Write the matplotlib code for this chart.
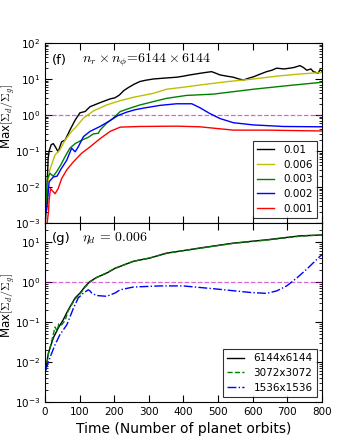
import numpy as np
import matplotlib
matplotlib.use('Agg')
import matplotlib.pyplot as plt

plt.rcParams['mathtext.fontset'] = 'cm'
plt.rcParams['font.family'] = ['DejaVu Sans']

# ---- panel (f): different eta_d at 6144x6144 ----
t_001 = [0, 3, 6, 9, 12, 18, 24, 30, 38, 48, 58, 72, 87, 101, 116, 130, 159, 188, 202, 215,
         228, 241, 258, 274, 290, 313, 340, 380, 400, 419, 440, 460, 481, 493, 505, 525, 544,
         560, 573, 588, 602, 620, 640, 655, 669, 690, 707, 720, 736, 746, 756, 768, 775, 789, 794, 800]
v_001 = [0.0008, 0.002, 0.01, 0.06, 0.1, 0.15, 0.16, 0.13, 0.095, 0.18, 0.2, 0.38, 0.72, 1.15, 1.25, 1.7,
         2.2, 2.8, 3.0, 3.6, 4.8, 5.8, 7.2, 8.5, 9.2, 10, 10.5, 11.2, 12, 13, 14, 15, 16, 14.5, 13,
         12, 11.2, 10, 9.4, 10.5, 11.5, 13.5, 16, 17.5, 20, 19, 20, 21, 23.5, 21, 17.5, 19, 16, 14.5, 18, 16.5]

t_0006 = [0, 5, 14, 29, 43, 58, 77, 91, 111, 140, 178, 217, 255, 313, 351, 399, 447, 524, 602, 669, 736, 794, 800]
v_0006 = [0.002, 0.008, 0.03, 0.078, 0.107, 0.2, 0.35, 0.48, 0.82, 1.3, 1.9, 2.5, 3.1, 4.0, 5.2, 5.9,
          6.8, 8.4, 10, 12, 13.8, 15, 15]

t_0003 = [0, 3, 7, 14, 24, 34, 45, 58, 72, 87, 106, 125, 140, 154, 159, 178, 197, 217, 241, 274,
          351, 409, 486, 602, 698, 794, 800]
v_0003 = [0.002, 0.004, 0.017, 0.024, 0.02, 0.027, 0.04, 0.07, 0.12, 0.16, 0.2, 0.24, 0.3, 0.31, 0.38,
          0.59, 0.82, 1.24, 1.5, 1.9, 2.9, 3.5, 3.8, 5.2, 6.5, 8.0, 8.1]

t_0002 = [0, 5, 12, 24, 35, 45, 63, 77, 87, 96, 111, 130, 159, 188, 211, 236, 260, 284, 332, 380,
          424, 447, 476, 505, 544, 602, 688, 794, 800]
v_0002 = [0.002, 0.0023, 0.014, 0.019, 0.02, 0.03, 0.056, 0.12, 0.095, 0.13, 0.25, 0.35, 0.48, 0.7,
          0.97, 1.2, 1.4, 1.55, 1.85, 2.05, 2.05, 1.6, 1.1, 0.8, 0.61, 0.53, 0.48, 0.47, 0.47]

t_0001 = [0, 5, 10, 12, 16, 29, 38, 48, 63, 82, 106, 130, 159, 188, 217, 274, 380, 447, 544, 640, 794, 800]
v_0001 = [0.0005, 0.0008, 0.002, 0.0044, 0.009, 0.0065, 0.009, 0.017, 0.03, 0.05, 0.087, 0.13, 0.22,
          0.35, 0.46, 0.48, 0.49, 0.47, 0.38, 0.38, 0.36, 0.36]

# ---- panel (g): resolution study at eta_d = 0.006 ----
t_6144 = [2, 10, 24, 38, 53, 67, 87, 101, 116, 130, 149, 178, 202, 255, 303, 351, 399, 447, 544, 640, 736, 794, 800]
v_6144 = [0.0064, 0.017, 0.04, 0.07, 0.115, 0.2, 0.4, 0.53, 0.78, 1.03, 1.3, 1.67, 2.2, 3.3, 4.0, 5.3,
          6.1, 7.1, 9.4, 11.4, 14.3, 15, 15]

t_3072 = [2, 10, 20, 29, 35, 40, 48, 58, 67, 87, 101, 116, 130, 149, 178, 202, 255, 303, 351, 399, 447, 544, 640, 736, 794, 800]
v_3072 = [0.006, 0.016, 0.035, 0.075, 0.06, 0.09, 0.085, 0.11, 0.19, 0.38, 0.5, 0.75, 1.0, 1.3, 1.7,
          2.2, 3.3, 4.0, 5.2, 6.1, 7.0, 9.3, 11.2, 14.0, 15, 15.2]

t_1536 = [2, 14, 29, 43, 63, 82, 96, 111, 125, 130, 135, 149, 178, 202, 217, 255, 332, 399, 495, 592,
          640, 669, 698, 727, 756, 794, 800]
v_1536 = [0.0064, 0.0126, 0.027, 0.048, 0.085, 0.22, 0.4, 0.53, 0.64, 0.6, 0.53, 0.46, 0.44, 0.53, 0.64,
          0.75, 0.8, 0.8, 0.67, 0.55, 0.52, 0.6, 0.8, 1.26, 2.1, 4.4, 4.8]

eta_labels = ['0.01', '0.006', '0.003', '0.002', '0.001']
res_labels = ['6144x6144', '3072x3072', '1536x1536']

fig = plt.figure(figsize=(3.57, 4.46), dpi=100)
ax1 = fig.add_axes([0.126, 0.5, 0.776, 0.4036])
ax2 = fig.add_axes([0.126, 0.0987, 0.776, 0.4013])


def style_axis(ax):
    ax.set_yscale('log')
    ax.set_xlim(0, 800)
    ax.set_xticks(np.arange(0, 801, 100))
    ax.tick_params(which='both', direction='in', top=True, right=True, labelsize=7.5)
    ax.tick_params(which='major', length=5, width=0.8)
    ax.tick_params(which='minor', length=2.5, width=0.6)
    ax.axhline(1.0, color='m', ls='--', lw=0.9, alpha=0.6)
    ax.set_ylabel(r'Max$[\Sigma_d/\Sigma_g]$', fontsize=8.5)


# panel (f)
style_axis(ax1)
ax1.plot(t_001, v_001, color='k', lw=1.0, label=eta_labels[0])
ax1.plot(t_0006, v_0006, color='y', lw=1.0, label=eta_labels[1])
ax1.plot(t_0003, v_0003, color='g', lw=1.0, label=eta_labels[2])
ax1.plot(t_0002, v_0002, color='b', lw=1.0, label=eta_labels[3])
ax1.plot(t_0001, v_0001, color='r', lw=1.0, label=eta_labels[4])
ax1.set_ylim(1e-3, 1e2)
ax1.tick_params(labelbottom=False)
ax1.yaxis.set_label_coords(-0.101, 0.59)
ax1.text(0.025, 0.905, r'(f)', transform=ax1.transAxes, fontsize=9.5, va='center')
ax1.text(0.135, 0.905, r'$n_r \times n_\phi\!=\!6144\times6144$', transform=ax1.transAxes,
         fontsize=10, va='center')
leg1 = ax1.legend(loc='lower right', fontsize=7.5, frameon=True, fancybox=False,
                  handlelength=1.6, handletextpad=0.9, labelspacing=0.45, borderaxespad=0.5)
leg1.get_frame().set_edgecolor('k')
leg1.get_frame().set_linewidth(0.8)

# panel (g)
style_axis(ax2)
ax2.plot(t_6144, v_6144, color='k', ls='-', lw=1.0, label=res_labels[0])
ax2.plot(t_3072, v_3072, color='g', ls='--', lw=1.0, label=res_labels[1])
ax2.plot(t_1536, v_1536, color='b', ls='-.', lw=1.0, label=res_labels[2])
ax2.set_ylim(1e-3, 30)
ax2.set_xlabel('Time (Number of planet orbits)', fontsize=10)
ax2.yaxis.set_label_coords(-0.101, 0.54)
ax2.text(0.025, 0.916, r'(g)', transform=ax2.transAxes, fontsize=9.5, va='center')
ax2.text(0.135, 0.916, r'$\eta_d\, =\, 0.006$', transform=ax2.transAxes, fontsize=10, va='center')
leg2 = ax2.legend(loc='lower right', fontsize=7.5, frameon=True, fancybox=False,
                  handlelength=1.6, handletextpad=0.9, labelspacing=0.45, borderaxespad=0.5)
leg2.get_frame().set_edgecolor('k')
leg2.get_frame().set_linewidth(0.8)

fig.savefig('out.png', dpi=100)
